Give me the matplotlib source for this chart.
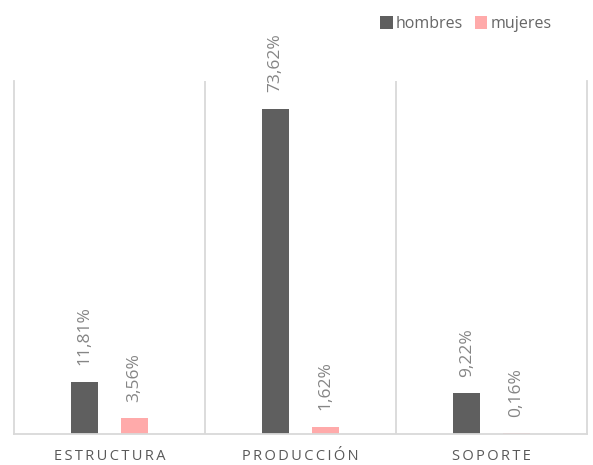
import numpy as np
import matplotlib.pyplot as plt

categorias = ['ESTRUCTURA', 'PRODUCCIÓN', 'SOPORTE']
hombres = [11.81, 73.62, 9.22]
mujeres = [3.56, 1.62, 0.16]
series = ['hombres', 'mujeres']

plt.rcParams['font.family'] = ['Open Sans', 'DejaVu Sans']

fig = plt.figure(figsize=(5.93, 4.65), dpi=100)
ax = fig.add_axes([14/593, 1 - 434/465, 573/593, 353/465])

x = np.arange(len(categorias))
w = 0.14
off = 0.13
b1 = ax.bar(x - off, hombres, w, color='#5f5f5f', label=series[0])
b2 = ax.bar(x + off, mujeres, w, color='#ffaaaa', label=series[1])

for bars, vals in [(b1, hombres), (b2, mujeres)]:
    for r, v in zip(bars, vals):
        ax.annotate(('%.2f%%' % v).replace('.', ','),
                    (r.get_x() + r.get_width() / 2, r.get_height()),
                    xytext=(0, 12), textcoords='offset points',
                    rotation=90, ha='center', va='bottom',
                    color='#858585', fontsize=12.5)

ax.set_xlim(-0.5, 2.5)
ax.set_ylim(0, 80)
for b in [0.5, 1.5]:
    ax.axvline(b, color='#d9d9d9', lw=1.3)
for s in ['left', 'right', 'bottom']:
    ax.spines[s].set_color('#d9d9d9')
    ax.spines[s].set_linewidth(1.3)
ax.spines['top'].set_visible(False)
ax.set_yticks([])
ax.set_xticks(x)
ax.set_xticklabels(['\u2009'.join(c) for c in categorias], color='#595959', fontsize=10.5)
ax.tick_params(axis='x', length=0, pad=11)

fig.legend(loc='upper right', bbox_to_anchor=(566/593, 0.997), ncol=2, frameon=False,
           fontsize=11.5, handlelength=0.8, handleheight=0.9, handletextpad=0.2,
           columnspacing=0.7, labelcolor='#666666')

fig.savefig('out.png', dpi=100)
